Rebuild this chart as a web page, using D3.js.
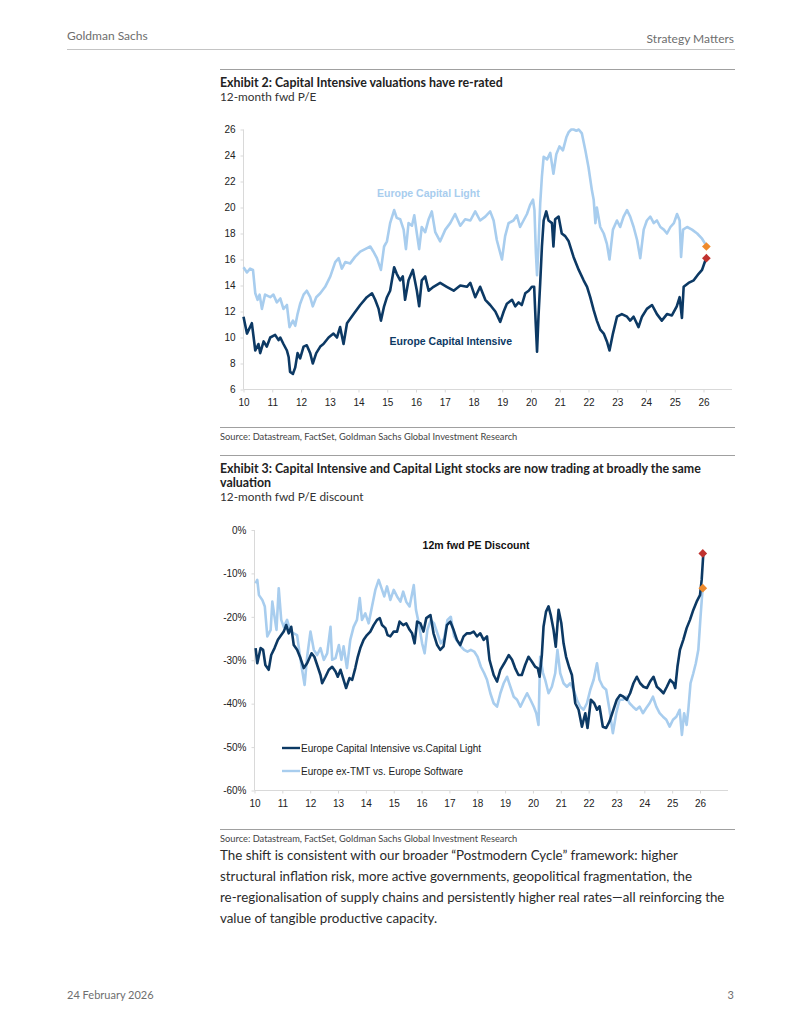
<!DOCTYPE html>
<html>
<head>
<meta charset="utf-8">
<script src="https://cdn.jsdelivr.net/npm/d3@7"></script>
<style>
  body { margin: 0; background: #fff; }
  svg { display: block; }
</style>
</head>
<body>
<svg id="page"></svg>
<script>
var width = 800;
var height = 1035;

// Exhibit 2: 12m fwd P/E, [year (yy), value]
var capIntensive = [
  [10.00,11.6],[10.12,10.3],[10.29,11.1],[10.41,9.0],[10.52,9.5],[10.58,8.8],[10.70,9.7],[10.81,9.3],
  [10.93,10.0],[11.10,10.2],[11.22,9.8],[11.28,10.0],[11.39,9.5],[11.51,9.0],[11.57,8.5],[11.62,7.35],
  [11.72,7.2],[11.80,7.7],[11.88,8.8],[11.97,8.4],[12.09,9.3],[12.20,9.4],[12.32,8.8],[12.41,8.0],
  [12.53,8.8],[12.67,9.3],[12.78,9.5],[12.96,10.0],[13.13,10.3],[13.25,10.0],[13.36,10.8],[13.48,9.5],
  [13.60,11.1],[13.83,11.8],[14.06,12.5],[14.29,13.1],[14.47,13.4],[14.58,12.9],[14.70,12.2],[14.78,11.3],
  [14.89,12.4],[14.99,13.1],[15.10,13.6],[15.24,15.4],[15.33,14.9],[15.45,14.4],[15.54,14.7],[15.62,12.9],
  [15.74,14.4],[15.89,15.2],[16.03,13.6],[16.11,12.4],[16.20,14.4],[16.32,14.7],[16.44,13.6],[16.61,13.9],
  [16.84,14.2],[17.07,13.9],[17.31,13.6],[17.54,14.0],[17.77,13.9],[17.89,14.2],[18.06,13.1],[18.23,13.9],
  [18.41,12.9],[18.58,12.5],[18.76,12.0],[18.93,11.2],[19.05,12.0],[19.16,12.6],[19.34,12.9],[19.45,12.4],
  [19.57,12.7],[19.68,12.5],[19.80,13.4],[19.92,13.6],[20.03,13.9],[20.11,13.9],[20.16,11.3],[20.21,8.9],
  [20.26,11.6],[20.32,14.2],[20.38,17.0],[20.44,19.0],[20.53,19.7],[20.61,19.0],[20.73,18.8],[20.78,17.0],
  [20.84,19.1],[20.96,19.3],[21.07,18.0],[21.19,17.8],[21.31,17.4],[21.48,16.2],[21.66,15.2],[21.83,14.4],
  [21.95,13.9],[22.06,13.1],[22.18,12.1],[22.29,11.3],[22.41,10.6],[22.53,10.3],[22.64,9.7],[22.73,9.0],
  [22.85,10.3],[22.99,11.6],[23.16,11.8],[23.34,11.6],[23.45,11.3],[23.57,11.6],[23.74,10.8],[23.86,11.6],
  [24.03,12.2],[24.21,12.5],[24.38,11.8],[24.55,11.3],[24.73,11.8],[24.90,11.7],[25.07,12.4],[25.17,13.1],
  [25.25,11.5],[25.31,13.9],[25.48,14.2],[25.66,14.4],[25.83,14.9],[25.95,15.2],[26.06,15.9],[26.10,16.1]
];
var capLight = [
  [10.00,15.4],[10.12,15.0],[10.23,15.3],[10.33,15.2],[10.41,13.4],[10.49,12.9],[10.56,13.3],[10.64,12.2],
  [10.75,13.3],[10.93,13.1],[11.04,13.3],[11.16,12.7],[11.28,13.0],[11.39,12.2],[11.51,12.5],[11.60,10.8],
  [11.72,11.3],[11.80,10.9],[11.88,11.8],[11.97,12.6],[12.09,13.3],[12.20,13.6],[12.32,13.1],[12.41,12.4],
  [12.53,13.1],[12.67,13.4],[12.84,13.9],[13.02,14.7],[13.19,15.8],[13.31,16.1],[13.42,15.3],[13.54,15.8],
  [13.71,15.7],[13.88,16.2],[14.06,16.6],[14.23,16.8],[14.41,17.0],[14.52,16.6],[14.64,16.1],[14.78,15.2],
  [14.89,17.0],[14.99,17.4],[15.10,18.8],[15.24,19.8],[15.33,19.2],[15.45,19.1],[15.57,18.3],[15.65,16.8],
  [15.74,18.8],[15.86,18.6],[15.94,19.4],[16.03,18.0],[16.11,16.8],[16.20,18.5],[16.32,18.1],[16.44,19.1],
  [16.55,19.7],[16.67,18.1],[16.84,17.4],[17.02,18.3],[17.19,18.8],[17.36,19.5],[17.54,18.6],[17.71,19.1],
  [17.89,19.0],[18.06,19.7],[18.23,19.0],[18.41,19.3],[18.58,19.7],[18.70,19.0],[18.81,17.5],[18.99,16.0],
  [19.10,17.8],[19.22,18.8],[19.39,19.0],[19.51,19.4],[19.62,18.5],[19.74,19.0],[19.86,19.5],[19.97,20.2],
  [20.07,20.6],[20.12,19.8],[20.17,16.5],[20.21,14.8],[20.26,17.0],[20.32,20.3],[20.38,22.4],[20.44,23.9],
  [20.56,23.7],[20.67,24.2],[20.78,22.6],[20.88,24.1],[20.99,24.7],[21.11,24.4],[21.23,25.4],[21.31,25.8],
  [21.40,26.0],[21.48,26.0],[21.58,25.9],[21.66,26.0],[21.77,25.7],[21.89,24.4],[22.00,23.1],[22.12,21.3],
  [22.18,20.6],[22.24,18.8],[22.29,20.0],[22.41,18.5],[22.53,18.0],[22.64,17.2],[22.73,16.0],[22.85,18.3],
  [22.99,19.0],[23.10,18.5],[23.22,19.3],[23.34,19.8],[23.45,19.3],[23.57,18.5],[23.69,17.5],[23.80,16.1],
  [23.92,18.3],[24.03,19.0],[24.15,19.3],[24.27,18.8],[24.38,19.0],[24.50,18.5],[24.62,18.3],[24.73,18.0],
  [24.85,18.5],[24.97,18.8],[25.08,19.5],[25.17,19.0],[25.22,16.2],[25.29,18.3],[25.43,18.5],[25.60,18.3],
  [25.78,18.0],[25.95,17.6],[26.06,17.2]
];
var peLatest = [
  {name: "light", t: 26.1, v: 17.0, color: "#ee8a2c"},
  {name: "intensive", t: 26.1, v: 16.1, color: "#c0322f"}
];

// Exhibit 3: 12m fwd P/E discount (%)
var discIntensive = [
  [10.04,-27.2],[10.10,-30.7],[10.22,-27.2],[10.31,-27.6],[10.39,-31.1],[10.51,-32.2],[10.60,-28.8],[10.72,-27.2],
  [10.84,-25.3],[10.96,-24.2],[11.05,-23.4],[11.14,-21.9],[11.23,-23.8],[11.32,-22.3],[11.41,-26.5],[11.53,-27.6],
  [11.65,-29.5],[11.77,-31.8],[11.89,-30.7],[12.05,-28.4],[12.15,-29.2],[12.25,-31.1],[12.37,-33.4],[12.43,-35.3],
  [12.55,-33.8],[12.67,-32.2],[12.79,-31.5],[12.91,-32.6],[12.99,-33.8],[13.09,-32.2],[13.20,-34.5],[13.29,-36.4],
  [13.41,-34.1],[13.51,-34.5],[13.62,-31.8],[13.71,-29.2],[13.80,-27.2],[13.92,-25.3],[14.04,-24.2],[14.16,-23.4],
  [14.28,-21.9],[14.40,-20.7],[14.50,-20.3],[14.58,-21.9],[14.70,-22.6],[14.78,-24.2],[14.88,-24.5],[15.00,-23.4],
  [15.12,-23.4],[15.21,-21.1],[15.34,-21.9],[15.45,-21.5],[15.57,-23.0],[15.66,-23.8],[15.75,-26.1],[15.84,-21.1],
  [15.96,-21.5],[16.07,-23.4],[16.17,-20.3],[16.32,-19.6],[16.43,-23.8],[16.56,-26.5],[16.67,-27.6],[16.79,-26.8],
  [16.91,-21.9],[17.03,-21.1],[17.15,-23.0],[17.27,-25.3],[17.39,-26.5],[17.51,-24.5],[17.63,-23.8],[17.75,-23.8],
  [17.87,-23.4],[17.99,-24.5],[18.11,-23.8],[18.23,-25.3],[18.35,-24.5],[18.44,-29.9],[18.59,-33.4],[18.71,-34.9],
  [18.83,-32.2],[18.97,-30.7],[19.13,-28.8],[19.25,-29.9],[19.36,-31.8],[19.48,-33.4],[19.60,-33.4],[19.72,-31.1],
  [19.84,-29.2],[19.96,-30.3],[20.08,-31.5],[20.17,-31.8],[20.24,-33.8],[20.32,-28.8],[20.38,-22.3],[20.47,-18.8],
  [20.56,-17.6],[20.64,-19.6],[20.74,-23.0],[20.82,-26.9],[20.92,-18.4],[21.02,-21.5],[21.10,-26.1],[21.19,-29.2],
  [21.31,-31.8],[21.40,-33.4],[21.52,-39.9],[21.64,-41.4],[21.76,-45.3],[21.88,-42.2],[21.96,-45.6],[22.08,-39.1],
  [22.20,-39.9],[22.30,-41.4],[22.39,-40.6],[22.51,-45.3],[22.63,-45.6],[22.75,-44.1],[22.89,-41.4],[23.01,-39.1],
  [23.13,-38.0],[23.25,-38.4],[23.37,-39.1],[23.49,-37.6],[23.61,-35.3],[23.73,-33.8],[23.85,-35.3],[23.97,-36.1],
  [24.09,-36.4],[24.21,-34.9],[24.33,-33.8],[24.45,-36.1],[24.57,-36.8],[24.69,-37.6],[24.81,-36.1],[24.93,-34.5],
  [25.05,-35.3],[25.11,-36.4],[25.19,-31.5],[25.28,-27.6],[25.40,-25.3],[25.52,-22.6],[25.64,-20.7],[25.76,-18.4],
  [25.88,-16.5],[26.00,-15.0],[26.06,-11.5],[26.12,-5.4]
];
var discSoftware = [
  [10.04,-12.3],[10.10,-11.5],[10.16,-15.0],[10.28,-16.1],[10.37,-17.6],[10.46,-24.5],[10.58,-23.0],[10.64,-16.5],
  [10.72,-20.0],[10.79,-23.0],[10.87,-13.4],[10.96,-20.7],[11.05,-22.3],[11.17,-20.7],[11.29,-23.4],[11.41,-23.8],
  [11.53,-24.2],[11.62,-28.4],[11.71,-32.2],[11.80,-35.7],[11.89,-29.2],[12.01,-23.4],[12.13,-27.6],[12.25,-28.8],
  [12.37,-27.2],[12.49,-29.9],[12.61,-28.4],[12.73,-22.3],[12.79,-29.9],[12.91,-29.5],[13.03,-26.5],[13.12,-29.9],
  [13.20,-26.8],[13.32,-31.8],[13.44,-25.3],[13.56,-22.3],[13.68,-20.7],[13.78,-15.7],[13.86,-20.7],[13.98,-19.2],
  [14.10,-21.5],[14.22,-17.6],[14.34,-13.8],[14.46,-11.5],[14.56,-13.4],[14.66,-15.3],[14.76,-13.0],[14.88,-16.1],
  [15.00,-13.8],[15.12,-15.3],[15.24,-16.5],[15.34,-14.2],[15.45,-16.5],[15.57,-17.6],[15.72,-12.7],[15.80,-18.4],
  [15.90,-21.5],[16.02,-26.1],[16.11,-28.4],[16.21,-23.0],[16.33,-20.7],[16.45,-21.5],[16.57,-23.8],[16.69,-26.1],
  [16.81,-25.0],[16.93,-20.7],[17.05,-20.0],[17.17,-24.5],[17.29,-25.7],[17.41,-26.8],[17.53,-27.6],[17.65,-28.0],
  [17.77,-27.6],[17.89,-28.0],[18.01,-29.2],[18.13,-31.5],[18.25,-33.0],[18.35,-34.5],[18.47,-37.6],[18.59,-39.9],
  [18.71,-40.7],[18.83,-37.6],[18.95,-35.3],[19.07,-33.8],[19.19,-36.1],[19.31,-38.4],[19.43,-39.1],[19.55,-40.7],
  [19.67,-39.1],[19.79,-37.6],[19.91,-39.1],[20.03,-40.7],[20.12,-42.2],[20.20,-44.9],[20.26,-29.2],[20.36,-32.9],
  [20.44,-34.5],[20.56,-37.6],[20.68,-36.1],[20.80,-33.0],[20.88,-27.6],[20.98,-33.0],[21.10,-35.3],[21.22,-36.1],
  [21.34,-35.3],[21.46,-36.8],[21.58,-39.1],[21.70,-40.7],[21.82,-41.4],[21.94,-39.9],[22.06,-36.8],[22.18,-34.5],
  [22.30,-30.7],[22.39,-34.5],[22.51,-36.1],[22.63,-36.8],[22.75,-41.4],[22.87,-46.8],[22.99,-42.2],[23.11,-39.1],
  [23.23,-39.1],[23.35,-38.4],[23.47,-39.9],[23.59,-40.7],[23.71,-41.4],[23.83,-40.7],[23.95,-42.2],[24.07,-41.0],
  [24.19,-39.9],[24.31,-38.4],[24.43,-40.7],[24.55,-42.2],[24.67,-43.0],[24.79,-43.7],[24.91,-45.3],[25.03,-43.7],
  [25.15,-43.0],[25.27,-41.4],[25.35,-47.2],[25.43,-42.2],[25.52,-44.9],[25.58,-41.4],[25.66,-35.3],[25.76,-33.0],
  [25.85,-30.7],[25.94,-27.6],[26.02,-19.9],[26.09,-13.8]
];
var discLatest = [
  {name: "software", t: 26.1, v: -13.4, color: "#ee8a2c"},
  {name: "intensive", t: 26.1, v: -5.4, color: "#c0322f"}
];

var years = d3.range(10, 27);
var peTicks = d3.range(6, 27, 2);
var discTicks = d3.range(0, -61, -10);

var darkBlue = "#0c3964";
var lightBlue = "#a8cdee";
var axisGrey = "#d9d9d9";

var svg = d3.select("#page").attr("width", width).attr("height", height);

// page furniture
function txt(x, y, s, opts) {
  opts = opts || {};
  return svg.append("text")
    .attr("x", x).attr("y", y)
    .attr("text-anchor", opts.anchor || "start")
    .style("font-family", opts.family || "Lato, 'Open Sans', sans-serif")
    .style("font-size", (opts.size || 12) + "px")
    .style("font-weight", opts.weight || "normal")
    .style("fill", opts.fill || "#333")
    .text(s);
}
function rule(x1, x2, y, color) {
  svg.append("line").attr("x1", x1).attr("x2", x2).attr("y1", y).attr("y2", y)
    .attr("stroke", color || "#aaa").attr("stroke-width", 1);
}

txt(67, 40, "Goldman Sachs", {size: 12, fill: "#6e6e6e"});
txt(734, 43, "Strategy Matters", {size: 12, fill: "#6e6e6e", anchor: "end"});
rule(67, 735, 49.5, "#c4c4c4");

rule(220, 735, 69.5, "#a0a0a0");
txt(220, 87, "Exhibit 2: Capital Intensive valuations have re-rated", {size: 12.4, weight: "bold", fill: "#222"});
txt(220, 100.5, "12-month fwd P/E", {size: 11.8, fill: "#333"});

rule(220, 735, 427.5, "#a0a0a0");
txt(220, 440, "Source: Datastream, FactSet, Goldman Sachs Global Investment Research", {size: 9.3, fill: "#444"});

rule(220, 735, 455.5, "#a0a0a0");
txt(220, 473, "Exhibit 3: Capital Intensive and Capital Light stocks are now trading at broadly the same", {size: 12.4, weight: "bold", fill: "#222"});
txt(220, 487, "valuation", {size: 12.4, weight: "bold", fill: "#222"});
txt(220, 500.5, "12-month fwd P/E discount", {size: 11.8, fill: "#333"});

rule(220, 735, 829.5, "#a0a0a0");
txt(220, 842, "Source: Datastream, FactSet, Goldman Sachs Global Investment Research", {size: 9.3, fill: "#444"});

var body = [
  "The shift is consistent with our broader \u201cPostmodern Cycle\u201d framework: higher",
  "structural inflation risk, more active governments, geopolitical fragmentation, the",
  "re-regionalisation of supply chains and persistently higher real rates\u2014all reinforcing the",
  "value of tangible productive capacity."
];
body.forEach(function(s, i) {
  txt(220, 860 + i * 21, s, {size: 13.35, fill: "#2b2b2b"});
});

txt(67, 999, "24 February 2026", {size: 11, fill: "#6e6e6e"});
txt(734, 999, "3", {size: 11, fill: "#6e6e6e", anchor: "end"});

// shared chart drawing
function drawChart(cfg) {
  var g = svg.append("g");
  var x = d3.scaleLinear().domain([10, 26]).range([cfg.x0, cfg.x1]);
  var y = d3.scaleLinear().domain(cfg.yDomain).range([cfg.yBottom, cfg.yTop]);

  // axis lines
  g.append("line").attr("x1", cfg.x0).attr("x2", cfg.x0).attr("y1", cfg.yTop).attr("y2", cfg.yBottom)
    .attr("stroke", axisGrey);
  g.append("line").attr("x1", cfg.x0).attr("x2", cfg.xEnd).attr("y1", cfg.yBottom).attr("y2", cfg.yBottom)
    .attr("stroke", axisGrey);

  var yAxis = d3.axisLeft(y).tickValues(cfg.yTicks).tickSize(3).tickPadding(5).tickFormat(cfg.yFormat);
  var ya = g.append("g").attr("transform", "translate(" + cfg.x0 + ",0)").call(yAxis);
  ya.select(".domain").remove();
  ya.selectAll("line").attr("stroke", axisGrey);
  ya.selectAll("text").style("font-family", "'Liberation Sans', Arial, sans-serif")
    .style("font-size", "10px").style("fill", "#222");

  var xAxis = d3.axisBottom(x).tickValues(years).tickSize(3).tickPadding(6).tickFormat(function(d) { return d; });
  var xa = g.append("g").attr("transform", "translate(0," + cfg.yBottom + ")").call(xAxis);
  xa.select(".domain").remove();
  xa.selectAll("line").attr("stroke", axisGrey);
  xa.selectAll("text").style("font-family", "'Liberation Sans', Arial, sans-serif")
    .style("font-size", "10px").style("fill", "#222");

  var line = d3.line()
    .x(function(d) { return x(d[0]); })
    .y(function(d) { return y(d[1]); });

  cfg.series.forEach(function(s) {
    g.append("path").datum(s.data)
      .attr("fill", "none")
      .attr("stroke", s.color)
      .attr("stroke-width", 2.6)
      .attr("stroke-linejoin", "round")
      .attr("d", line);
  });

  g.selectAll(".marker").data(cfg.markers).enter().append("path")
    .attr("class", "marker")
    .attr("d", d3.symbol().type(d3.symbolSquare).size(38))
    .attr("transform", function(d) { return "translate(" + x(d.t) + "," + y(d.v) + ") rotate(45)"; })
    .attr("fill", function(d) { return d.color; });

  return {g: g, x: x, y: y};
}

// Exhibit 2
var c1 = drawChart({
  x0: 243.5, x1: 703.5, xEnd: 732,
  yTop: 129.5, yBottom: 389.5,
  yDomain: [6, 26], yTicks: peTicks,
  yFormat: function(d) { return d; },
  series: [
    {data: capLight, color: lightBlue},
    {data: capIntensive, color: darkBlue}
  ],
  markers: peLatest
});
c1.g.append("text").attr("x", 377).attr("y", 196.5)
  .style("font-family", "'Liberation Sans', Arial, sans-serif").style("font-size", "10.5px")
  .style("font-weight", "bold").style("fill", lightBlue).text("Europe Capital Light");
c1.g.append("text").attr("x", 389.5).attr("y", 344.5)
  .style("font-family", "'Liberation Sans', Arial, sans-serif").style("font-size", "10.5px")
  .style("font-weight", "bold").style("fill", darkBlue).text("Europe Capital Intensive");

// Exhibit 3
var c2 = drawChart({
  x0: 254.5, x1: 700, xEnd: 728,
  yTop: 530, yBottom: 790.5,
  yDomain: [-60, 0], yTicks: discTicks,
  yFormat: function(d) { return d + "%"; },
  series: [
    {data: discSoftware, color: lightBlue},
    {data: discIntensive, color: darkBlue}
  ],
  markers: discLatest
});
c2.g.append("text").attr("x", 476).attr("y", 549).attr("text-anchor", "middle")
  .style("font-family", "'Liberation Sans', Arial, sans-serif").style("font-size", "10.5px")
  .style("font-weight", "bold").style("fill", "#111").text("12m fwd PE Discount");

var legendItems = [
  {label: "Europe Capital Intensive vs.Capital Light", color: darkBlue},
  {label: "Europe ex-TMT vs. Europe Software", color: lightBlue}
];
var lg = c2.g.selectAll(".legend").data(legendItems).enter().append("g")
  .attr("class", "legend")
  .attr("transform", function(d, i) { return "translate(282," + (748 + i * 23) + ")"; });
lg.append("line").attr("x1", 0).attr("x2", 18).attr("stroke", function(d) { return d.color; }).attr("stroke-width", 2.4);
lg.append("text").attr("x", 19).attr("y", 3.6)
  .style("font-family", "'Liberation Sans', Arial, sans-serif").style("font-size", "10px")
  .style("fill", "#222").text(function(d) { return d.label; });
</script>
</body>
</html>
